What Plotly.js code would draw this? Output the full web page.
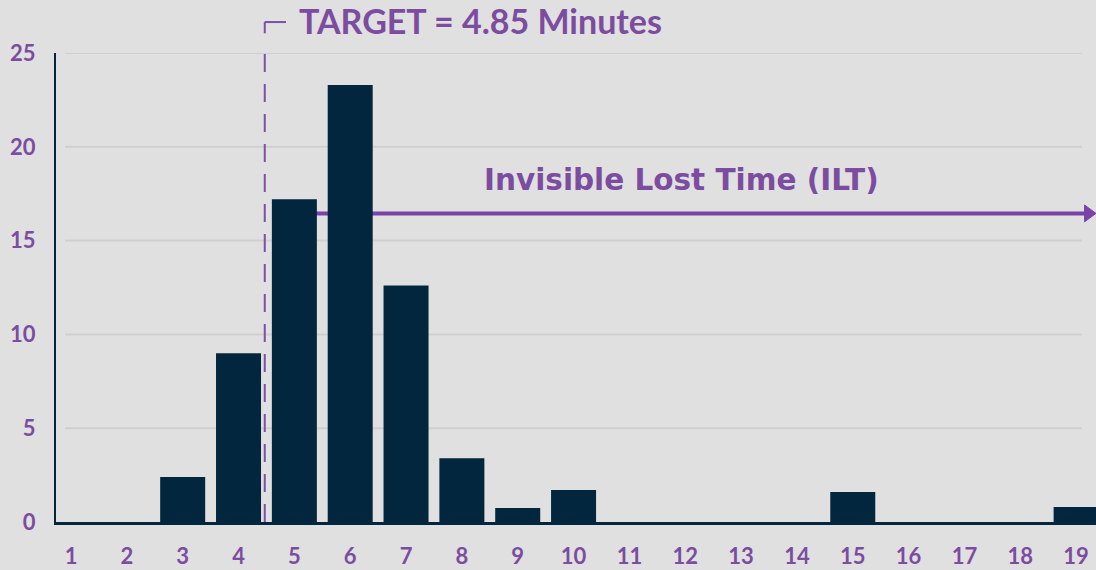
<!DOCTYPE html>
<html>
<head>
<meta charset="utf-8">
<script src="https://cdn.plot.ly/plotly-3.0.1.min.js"></script>
<style>html,body{margin:0;padding:0;background:#e0e0e0;}#chart{width:1096px;height:570px;}</style>
</head>
<body>
<div id="chart"></div>
<script>
// Data
const minutes = [1,2,3,4,5,6,7,8,9,10,11,12,13,14,15,16,17,18,19];
const tickLabels = ["1","2","3","4","5","6","7","8","9","10","11","12","13","14","15","16","17","18","19"];
const counts = [0,0,2.4,9.0,17.2,23.3,12.6,3.4,0.75,1.7,0,0,0,0,1.6,0,0,0,0.8];
const yTicks = [0,5,10,15,20,25];
const gridTicks = [5,10,15,20,25];
const targetPos = 4.47;         // dashed target marker (between 4 and 5)
const targetLabel = "TARGET = 4.85 Minutes";
const iltLabel = "Invisible Lost Time (ILT)";
const iltLevel = 16.45;
const iltStart = 5;

const purple = "#7b4c9f";
const arrowPurple = "#7a43a8";
const navy = "#01263d";
const fontFam = "Lato, 'DejaVu Sans', sans-serif";
const wideFam = "'DejaVu Sans', sans-serif";

const trace = {
  type: "bar",
  x: minutes,
  y: counts,
  width: 0.806,
  marker: {color: navy},
  hoverinfo: "x+y"
};

const shapes = gridTicks.map(v => ({
  type: "line", layer: "below", xref: "paper", yref: "y",
  x0: 0.0087, x1: 0.9865, y0: v, y1: v,
  line: {color: "#cfcfcf", width: 2}
}));

shapes.push(
  // ILT arrow shaft (behind bars)
  {type: "line", layer: "between", xref: "x", yref: "y",
   x0: iltStart, x1: 19.2, y0: iltLevel, y1: iltLevel,
   line: {color: arrowPurple, width: 4}},
  // ILT arrow head
  {type: "path", layer: "above", xref: "paper", yref: "y",
   path: "M 0.989 " + (iltLevel + 0.45) + " L 1.0 " + iltLevel + " L 0.989 " + (iltLevel - 0.45) + " Z",
   fillcolor: arrowPurple, line: {color: arrowPurple, width: 1}},
  // Target dashed line
  {type: "line", layer: "above", xref: "x", yref: "paper",
   x0: targetPos, x1: targetPos, y0: 0, y1: 1.0,
   line: {color: "#7d4fa6", width: 2, dash: "18px,12px"}},
  // bracket above target line
  {type: "line", layer: "above", xref: "x", yref: "paper",
   x0: targetPos, x1: targetPos + 0.38, y0: 1.066, y1: 1.066,
   line: {color: "#7d4fa6", width: 2}},
  {type: "line", layer: "above", xref: "x", yref: "paper",
   x0: targetPos, x1: targetPos, y0: 1.066, y1: 1.042,
   line: {color: "#7d4fa6", width: 2}}
);

const layout = {
  width: 1096, height: 570,
  paper_bgcolor: "#e0e0e0",
  plot_bgcolor: "#e0e0e0",
  margin: {l: 56, r: 0, t: 53, b: 48},
  showlegend: false,
  font: {family: fontFam, color: purple},
  xaxis: {
    range: [0.7314, 19.356],
    tickvals: minutes,
    ticktext: tickLabels,
    tickfont: {family: fontFam, size: 22, color: purple, weight: "bold"},
    ticks: "outside", ticklen: 13, tickcolor: "rgba(0,0,0,0)",
    showgrid: false, zeroline: false,
    showline: true, linecolor: navy, linewidth: 3,
    fixedrange: true
  },
  yaxis: {
    range: [0, 25],
    tickvals: yTicks,
    tickfont: {family: fontFam, size: 22, color: purple, weight: "bold"},
    ticks: "outside", ticklen: 14, tickcolor: "rgba(0,0,0,0)",
    showgrid: false,
    zeroline: false,
    showline: true, linecolor: navy, linewidth: 2,
    fixedrange: true
  },
  shapes: shapes,
  annotations: [
    {text: targetLabel, xref: "x", yref: "paper",
     x: targetPos + 0.57, y: 1.07, xanchor: "left", yanchor: "middle",
     showarrow: false,
     font: {family: fontFam, size: 34, color: purple, weight: "bold"}},
    {text: iltLabel, xref: "x", yref: "y",
     x: 11.93, y: 18.25, xanchor: "center", yanchor: "middle",
     showarrow: false,
     font: {family: wideFam, size: 29.5, color: purple, weight: "bold"}}
  ]
};

Plotly.newPlot("chart", [trace], layout, {displayModeBar: false, staticPlot: true});
</script>
</body>
</html>
